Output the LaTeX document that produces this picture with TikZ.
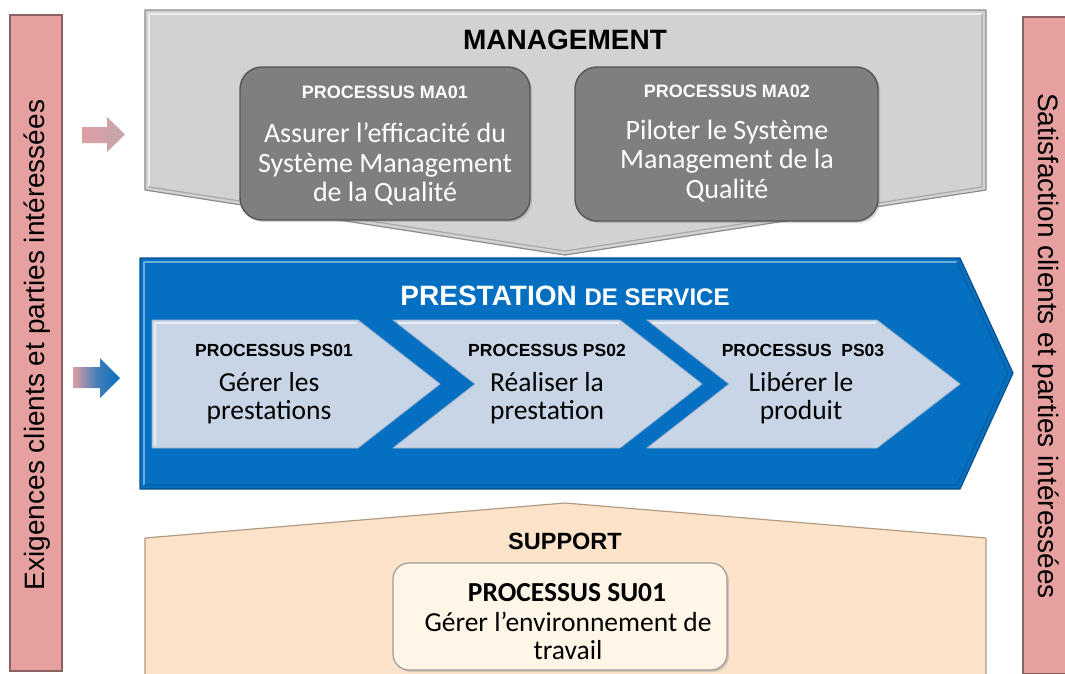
\documentclass[tikz,border=0pt]{standalone}
\usepackage{fontspec}
\setmainfont{Carlito}
\newfontfamily\arialf{Liberation Sans}
\usetikzlibrary{shadows}
\definecolor{sidepink}{HTML}{E6A0A0}
\definecolor{sideedge}{HTML}{8A6262}
\definecolor{mgfill}{HTML}{D2D2D2}
\definecolor{mgedge}{HTML}{8C8C8C}
\definecolor{mafill}{HTML}{7F7F7F}
\definecolor{maedge}{HTML}{555555}
\definecolor{psblue}{HTML}{0570C1}
\definecolor{psedge}{HTML}{0B4F8A}
\definecolor{chevfill}{HTML}{C7D5E7}
\definecolor{chevedge}{HTML}{9FB3CC}
\definecolor{supfill}{HTML}{FCE3CA}
\definecolor{supedge}{HTML}{B39B83}
\definecolor{sufill}{HTML}{FFF6E8}
\definecolor{suedge}{HTML}{9C9C9C}
\definecolor{arrpink}{HTML}{DE9EA2}
\definecolor{arrgray}{HTML}{C4A6AC}
\tikzset{
  sidebar/.style={fill=sidepink, draw=sideedge, line width=1.6pt},
  sidetext/.style={font=\arialf\fontsize{28}{30}\selectfont, text=black, inner sep=0pt},
  mgshape/.style={fill=mgfill, draw=mgedge, line width=1.2pt, line join=round},
  mabox/.style={fill=mafill, draw=maedge, line width=1.4pt, rounded corners=22pt,
     drop shadow={opacity=0.35, shadow xshift=2pt, shadow yshift=-2pt}},
  headw/.style={font=\arialf\bfseries\fontsize{18}{20}\selectfont, text=white, inner sep=0pt},
  bodyw/.style={font=\fontsize{28}{29.5}\selectfont, text=white, align=center, inner sep=0pt},
  psshape/.style={fill=psblue, draw=psedge, line width=1.2pt, line join=round},
  chev/.style={fill=chevfill, draw=chevedge, line width=0.8pt, line join=round},
  headk/.style={font=\arialf\bfseries\fontsize{17.5}{20}\selectfont, text=black, inner sep=0pt},
  bodyk/.style={font=\fontsize{27.5}{28.5}\selectfont, text=black, align=center, inner sep=0pt},
  supshape/.style={fill=supfill, draw=supedge, line width=1.2pt, line join=round},
  subox/.style={fill=sufill, draw=suedge, line width=1.2pt, rounded corners=16pt,
     drop shadow={opacity=0.3, shadow xshift=2pt, shadow yshift=-2pt}},
  hilite/.style={line width=1.2pt, opacity=0.6, line join=round},
}
\begin{document}
\begin{tikzpicture}[x=1pt,y=-1pt]
\useasboundingbox (0,0) rectangle (1065,673);
% side bars
\draw[sidebar] (10,15) rectangle (62,671);
\draw[sidebar] (1023,17) rectangle (1066,674);
\node[sidetext, rotate=90] (exig) at (37,345) {Exigences clients et parties intéressées};
\node[sidetext, rotate=-90] (satis) at (1046,346) {Satisfaction clients et parties intéressées};
% input arrows
\shade[left color=arrpink, right color=arrgray]
  (82,127) -- (107,127) -- (107,117) -- (125,134.5) -- (107,152) -- (107,143) -- (82,143) -- cycle;
\shade[left color=arrpink, right color=psblue, middle color=psblue!70!arrpink]
  (73,367) -- (100,367) -- (100,358) -- (120,378) -- (100,398) -- (100,388) -- (73,388) -- cycle;
% management
\draw[mgshape] (145,10) -- (986,10) -- (986,190) -- (565,255) -- (145,190) -- cycle;
\draw[hilite, white] (149,186) -- (149,14) -- (982,14);
\draw[hilite, black!45] (982,14) -- (982,187) -- (565,251) -- (149,187);
\node[font=\arialf\bfseries\fontsize{28}{30}\selectfont, inner sep=0pt] (mgmt) at (565,40) {MANAGEMENT};
\draw[mabox] (240,67) rectangle (530,220);
\draw[mabox] (575,67) rectangle (878,221);
\node[headw] (ma01h) at (385,92) {PROCESSUS MA01};
\node[bodyw] (ma01b) at (385,164) {Assurer l’efficacité du\\Système Management\\de la Qualité};
\node[headw] (ma02h) at (727,91) {PROCESSUS MA02};
\node[bodyw] (ma02b) at (727,161) {Piloter le Système\\Management de la\\Qualité};
% prestation
\draw[psshape] (140,258) -- (960,258) -- (1013,373) -- (960,489) -- (140,489) -- cycle;
\draw[hilite, white!70!psblue] (144,485) -- (144,262) -- (957,262);
\draw[hilite, psedge] (957,262) -- (1008,373) -- (957,485) -- (144,485);
\node[font=\arialf\bfseries, text=white, inner sep=0pt] (prest) at (565,296)
  {{\fontsize{28}{30}\selectfont PRESTATION }{\fontsize{24}{30}\selectfont DE SERVICE}};
\draw[chev] (152,320) -- (358,320) -- (440,384) -- (358,448) -- (152,448) -- cycle;
\draw[chev] (393,320) -- (620,320) -- (702,384) -- (620,448) -- (393,448) -- (475,384) -- cycle;
\draw[chev] (647,320) -- (877,320) -- (960,384) -- (877,448) -- (647,448) -- (729,384) -- cycle;
\draw[hilite, white] (155,445) -- (155,323) -- (357,323);
\draw[hilite, white] (398,323) -- (619,323);
\draw[hilite, white] (652,323) -- (876,323);
\node[headk] (ps01h) at (274,350) {PROCESSUS PS01};
\node[bodyk] (ps01b) at (269,398) {Gérer les\\prestations};
\node[headk] (ps02h) at (547,350) {PROCESSUS PS02};
\node[bodyk] (ps02b) at (547,398) {Réaliser la\\prestation};
\node[headk] (ps03h) at (803,350) {PROCESSUS\ \ PS03};
\node[bodyk] (ps03b) at (801,398) {Libérer le\\produit};
% support
\draw[supshape] (145,675) -- (145,538) -- (565,503) -- (986,538) -- (986,675);
\node[font=\arialf\bfseries\fontsize{23.5}{26}\selectfont, inner sep=0pt] (supp) at (565,541) {SUPPORT};
\draw[subox] (393,563) rectangle (727,670);
\node[font=\bfseries\fontsize{27.5}{29}\selectfont, inner sep=0pt] (su01h) at (567,593) {PROCESSUS SU01};
\node[bodyk] (su01b) at (568,636) {Gérer l’environnement de\\travail};
\end{tikzpicture}
\end{document}
